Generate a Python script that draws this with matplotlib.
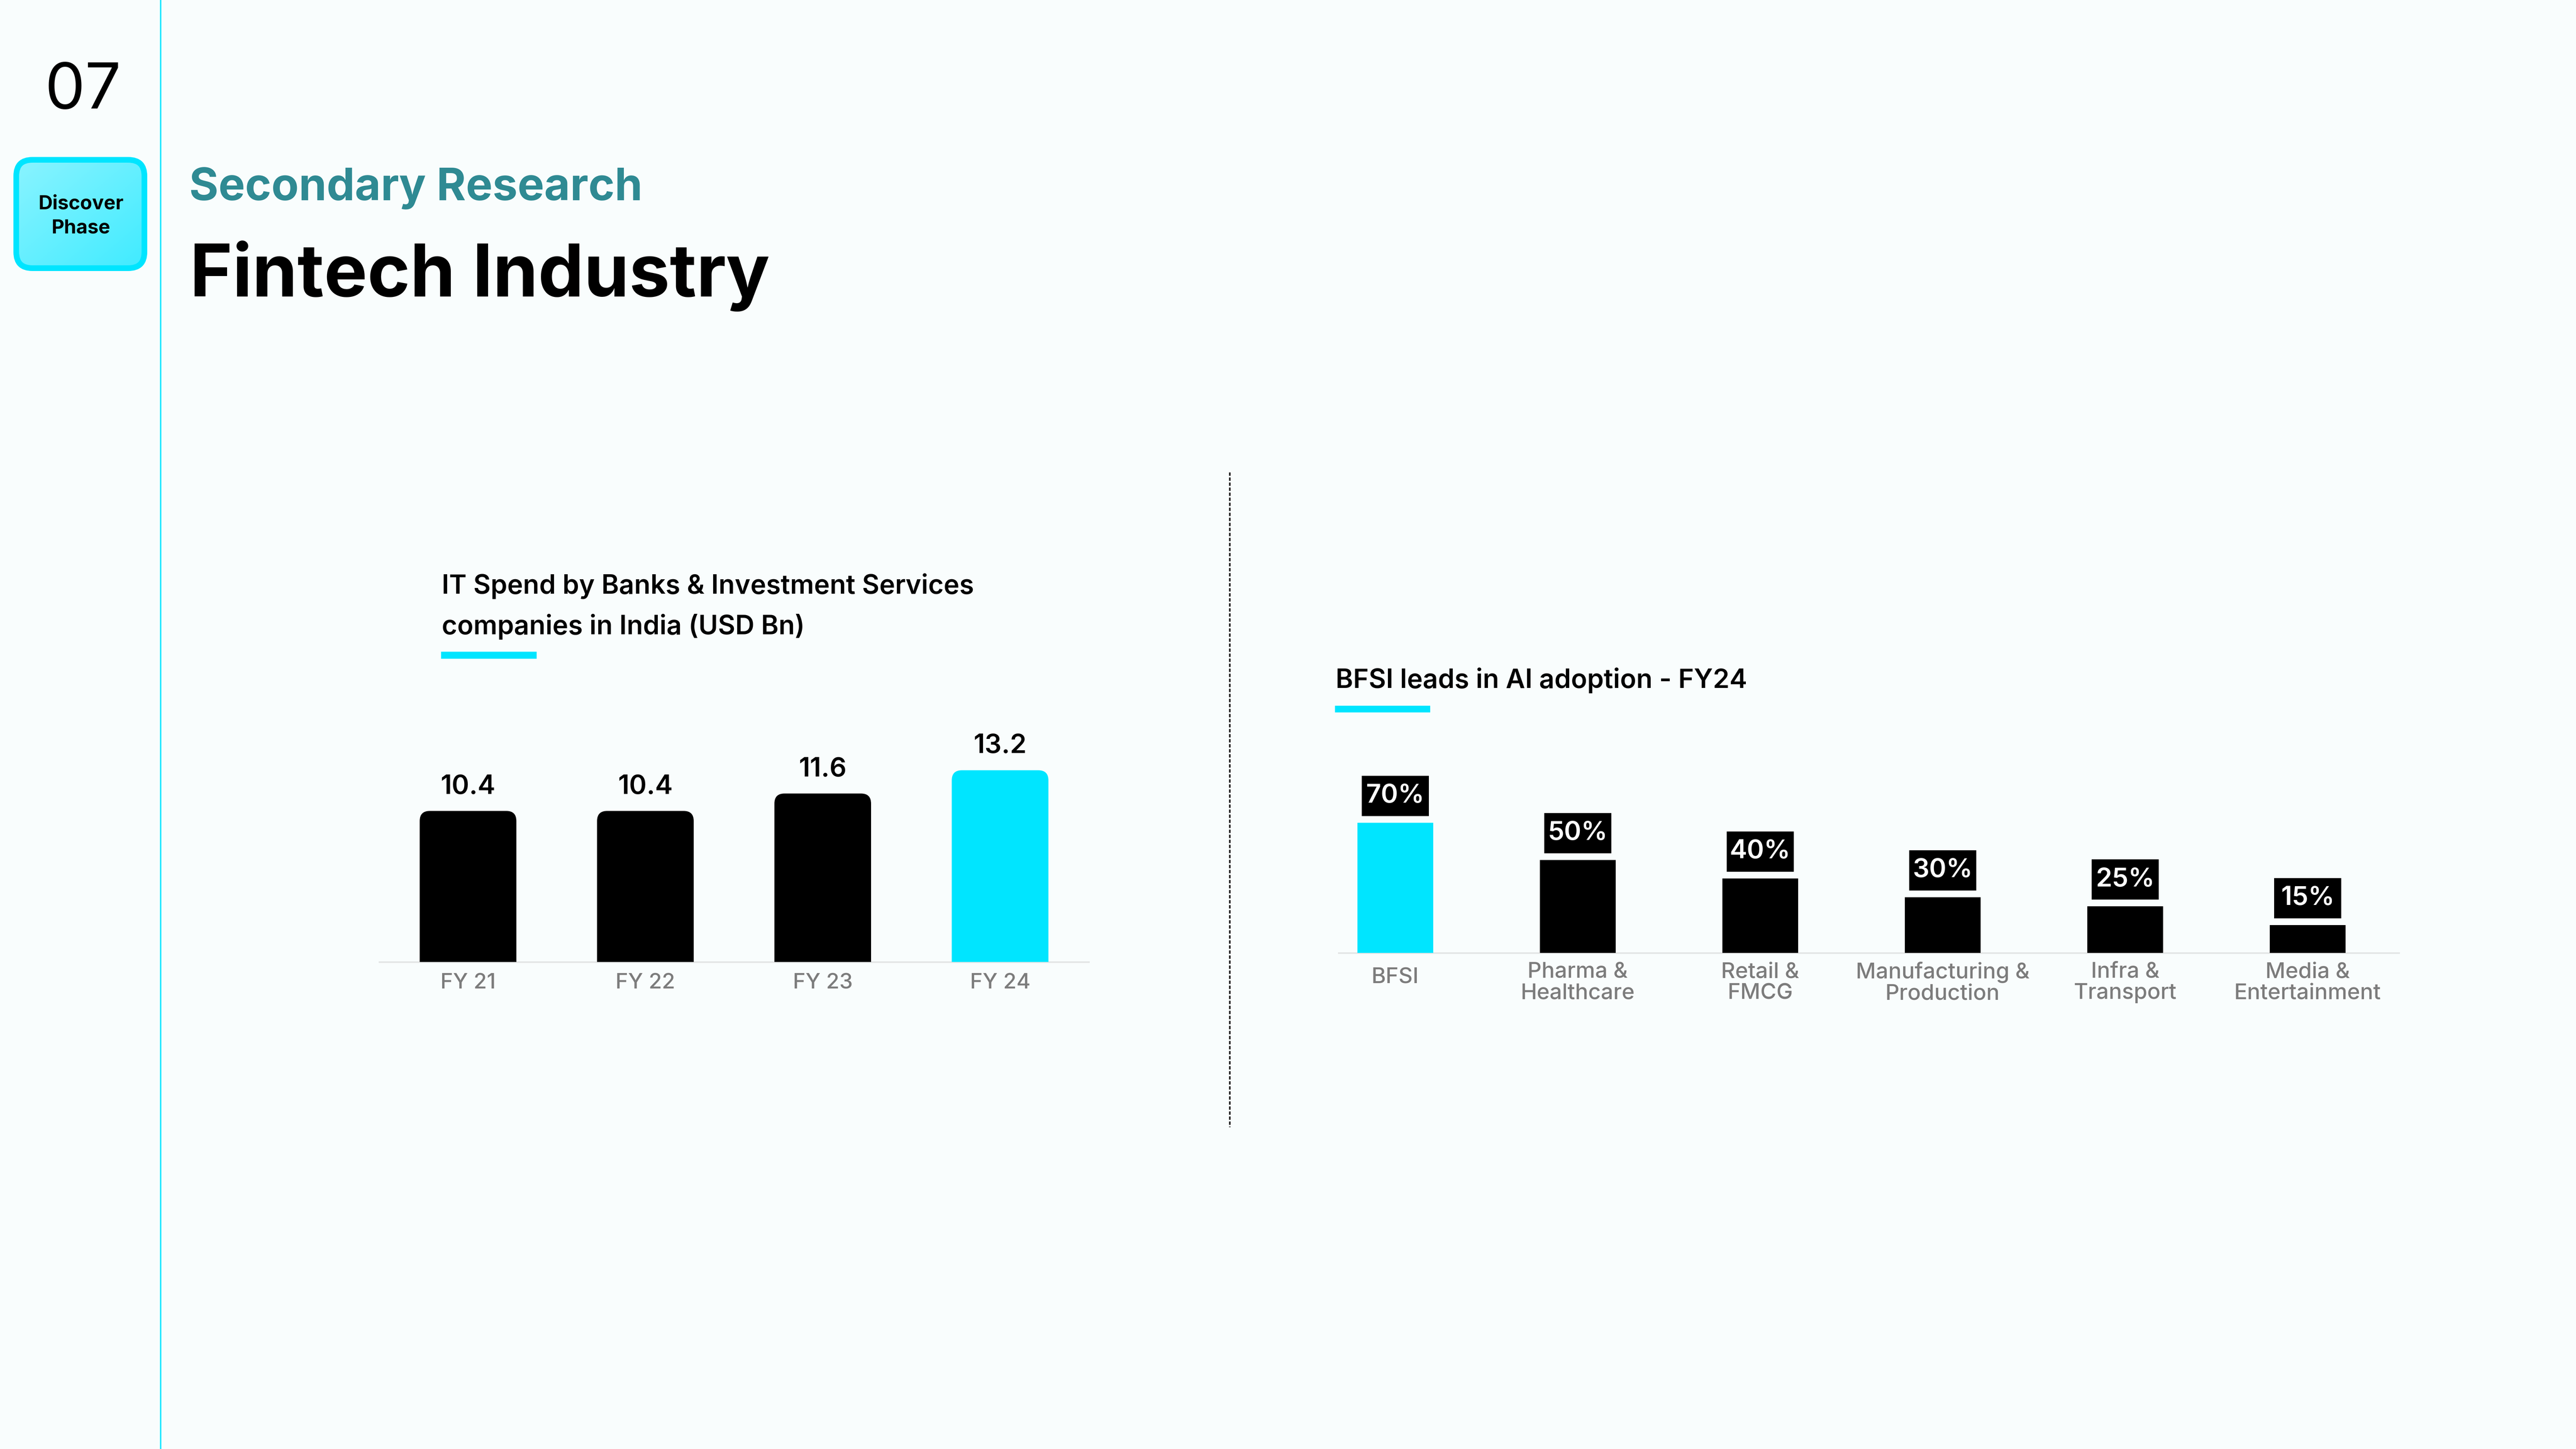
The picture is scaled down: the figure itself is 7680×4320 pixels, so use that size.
import matplotlib
matplotlib.use('Agg')
import matplotlib.pyplot as plt
import numpy as np
from matplotlib.patches import FancyBboxPatch, Rectangle
from matplotlib.colors import LinearSegmentedColormap

W, H = 7680, 4320
DPI = 100
PT = 72 / DPI  # points per pixel

plt.rcParams['font.family'] = ['Inter', 'DejaVu Sans']

# ---------------- data ----------------
it_years = ['FY 21', 'FY 22', 'FY 23', 'FY 24']
it_spend = [10.4, 10.4, 11.6, 13.2]
it_highlight = [False, False, False, True]

ai_sectors = ['BFSI', 'Pharma &\nHealthcare', 'Retail &\nFMCG',
              'Manufacturing &\nProduction', 'Infra &\nTransport',
              'Media &\nEntertainment']
ai_adoption = [70, 50, 40, 30, 25, 15]
ai_highlight = [True, False, False, False, False, False]

BG = '#F9FDFD'
CYAN = '#00E5FF'
TEAL = '#2F8A93'
GRAY = '#7C7C7C'
AXIS = '#E4E6E6'

fig = plt.figure(figsize=(W / DPI, H / DPI), dpi=DPI, facecolor=BG)
canvas = fig.add_axes([0, 0, 1, 1], zorder=0)
canvas.axis('off')


def px_axes(x0, x1, ytop, ybot):
    return fig.add_axes([x0 / W, 1 - ybot / H, (x1 - x0) / W, (ybot - ytop) / H], zorder=2)


# ---------------- decorations ----------------
canvas.plot([479, 479], [0, H], color=CYAN, lw=4 * PT, solid_capstyle='butt')

box = FancyBboxPatch((48.5, 476.5), 382, 323, boxstyle='round,pad=0,rounding_size=48',
                     fc='none', ec=CYAN, lw=17 * PT, zorder=3)
canvas.add_patch(box)
gx, gy = np.meshgrid(np.linspace(0, 1, 200), np.linspace(0, 1, 200))
grad = (gx + gy) / 2
im = canvas.imshow(grad, extent=(48.5, 430.5, 799.5, 476.5), origin='upper',
                   cmap=LinearSegmentedColormap.from_list('g', ['#8AF4FF', '#40EBFF']),
                   aspect='auto', zorder=2, interpolation='bilinear')
im.set_clip_path(box)

canvas.text(241, 624, 'Discover', ha='center', va='baseline', fontsize=42,
            fontweight='bold', color='black', zorder=4)
canvas.text(241, 696, 'Phase', ha='center', va='baseline', fontsize=42,
            fontweight='bold', color='black', zorder=4)

canvas.text(134, 324, '07', ha='left', va='baseline', fontsize=137, color='black')
canvas.text(564, 597, 'Secondary Research', ha='left', va='baseline', fontsize=96,
            fontweight='bold', color=TEAL)
canvas.text(566, 884, 'Fintech Industry', ha='left', va='baseline', fontsize=156,
            fontweight='bold', color='black')

# left chart title
canvas.text(1317, 1770, 'IT Spend by Banks & Investment Services', ha='left', va='baseline',
            fontsize=57, fontweight='semibold', color='black')
canvas.text(1317, 1891, 'companies in India (USD Bn)', ha='left', va='baseline',
            fontsize=57, fontweight='semibold', color='black')
canvas.add_patch(Rectangle((1315, 1943), 285, 21, fc=CYAN, ec='none'))

# right chart title
canvas.text(3982, 2051, 'BFSI leads in AI adoption - FY24', ha='left', va='baseline',
            fontsize=57, fontweight='semibold', color='black')
canvas.add_patch(Rectangle((3980, 2104), 284, 20, fc=CYAN, ec='none'))

# divider
canvas.plot([3666, 3666], [1408, 3360], color='#2A2A2A', lw=5 * PT, ls=(0, (2, 1)))

canvas.set_xlim(0, W)
canvas.set_ylim(H, 0)


def style_axes(ax):
    ax.set_facecolor('none')
    for s in ['top', 'right', 'left']:
        ax.spines[s].set_visible(False)
    ax.spines['bottom'].set_color(AXIS)
    ax.spines['bottom'].set_linewidth(5 * PT)
    ax.spines['bottom'].set_zorder(0.5)
    ax.set_yticks([])
    ax.tick_params(axis='x', length=0)


# ---------------- left chart ----------------
L_X0, L_X1, L_BASE = 1131, 3246, 2868
L_PPU = 43.3
L_YMAX = 16
axL = px_axes(L_X0, L_X1, L_BASE - L_YMAX * L_PPU, L_BASE)
style_axes(axL)
axL.set_xlim(-0.5, len(it_years) - 0.5)
axL.set_ylim(0, L_YMAX)

px_x = (L_X1 - L_X0) / len(it_years)
r_px = 30
rx = r_px / px_x
ry = r_px / L_PPU
colorsL = [CYAN if h else 'black' for h in it_highlight]
bars = axL.bar(range(len(it_years)), it_spend, width=0.545, color=colorsL)
for rect, c, v in zip(bars, colorsL, it_spend):
    rect.set_visible(False)
    x, w, h = rect.get_x(), rect.get_width(), rect.get_height()
    p = FancyBboxPatch((x, -ry), w, h + ry,
                       boxstyle=f'round,pad=0,rounding_size={rx}',
                       mutation_aspect=ry / rx, fc=c, ec='none', zorder=2)
    axL.add_patch(p)
    axL.annotate(f'{v:.1f}', xy=(x + w / 2, h), xytext=(0, 51 * PT),
                 textcoords='offset points', ha='center', va='baseline',
                 fontsize=57, fontweight='semibold', color='black')
axL.set_xticks(range(len(it_years)), it_years, fontsize=46, fontweight='medium', color=GRAY)
axL.tick_params(axis='x', pad=24)

# ---------------- right chart ----------------
R_X0, R_X1, R_BASE = 3991, 7152, 2841
R_PPU = 5.55
R_YMAX = 100
R_XMIN, R_XMAX = -0.31, 5.5
axR = px_axes(R_X0, R_X1, R_BASE - R_YMAX * R_PPU, R_BASE)
style_axes(axR)
axR.set_xlim(R_XMIN, R_XMAX)
axR.set_ylim(0, R_YMAX)
px_xR = (R_X1 - R_X0) / (R_XMAX - R_XMIN)

colorsR = [CYAN if h else 'black' for h in ai_highlight]
barsR = axR.bar(range(len(ai_sectors)), ai_adoption, width=0.415, color=colorsR, zorder=2)
bw = 200 / px_xR
bh = 120 / R_PPU
gap = 20 / R_PPU
for rect, v in zip(barsR, ai_adoption):
    cx = rect.get_x() + rect.get_width() / 2
    top = rect.get_height()
    axR.add_patch(Rectangle((cx - bw / 2, top + gap), bw, bh, fc='black', ec='none',
                            zorder=3, clip_on=False))
    axR.text(cx, top + gap + bh / 2, f'{v}%', ha='center', va='center',
             fontsize=56, fontweight='semibold', color='white', zorder=4)

# category labels under the bars (single-line labels sit a little higher)
axR.set_xticks(range(len(ai_sectors)), [''] * len(ai_sectors))
for i, lab in enumerate(ai_sectors):
    off = 89 if '\n' in lab else 73
    axR.annotate(lab, xy=(i, 0), xycoords=('data', 'axes fraction'),
                 xytext=(0, -off * PT), textcoords='offset points',
                 ha='center', va='center', multialignment='center',
                 fontsize=47, fontweight='medium', color=GRAY, linespacing=1.05,
                 annotation_clip=False)

fig.savefig('out.png', dpi=DPI, facecolor=BG)
